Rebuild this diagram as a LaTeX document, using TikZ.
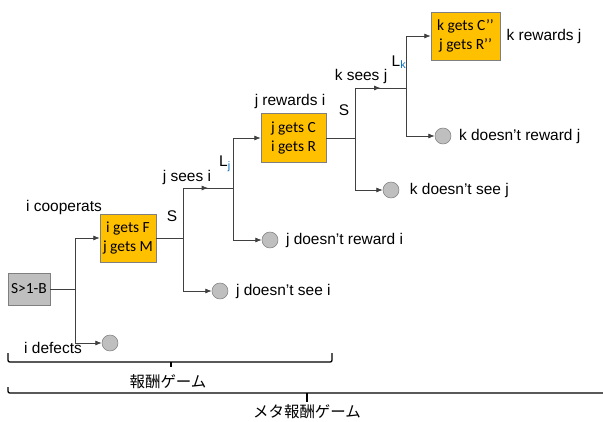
\documentclass[tikz,border=0pt]{standalone}
\usepackage{fontspec}
\setmainfont{Liberation Sans}
\newfontfamily\boxfont{Carlito}
\newfontfamily\cjk{Noto Sans CJK JP}
\usepackage{xcolor}
\usetikzlibrary{arrows.meta,positioning,calc,decorations.markings}

\definecolor{payoff}{HTML}{FFC000}
\definecolor{edgegray}{HTML}{7F7F7F}
\definecolor{leafgray}{HTML}{BFBFBF}
\definecolor{linkgray}{HTML}{404040}
\definecolor{subblue}{HTML}{0070C0}

\begin{document}
\begin{tikzpicture}[x=0.025cm, y=-0.025cm,
  every node/.style={font=\fontsize{11}{13.5}\selectfont},
  payoffbox/.style={rectangle, draw=edgegray, fill=payoff, align=center, inner sep=0pt, font=\fontsize{11}{13.5}\selectfont\boxfont},
  startbox/.style={rectangle, draw=edgegray, fill=leafgray, inner sep=0pt, minimum width=1.05cm, minimum height=0.8cm, font=\fontsize{11}{13.5}\selectfont\boxfont},
  leaf/.style={circle, draw=edgegray, fill=leafgray, minimum size=0.4cm, inner sep=0pt},
  link/.style={draw=linkgray, line width=0.5pt},
  arrowed/.style={-{Latex[length=4.5pt,width=3.5pt]}},
  mid arrow/.style={postaction={decorate}, decoration={markings, mark=at position 0.5 with {\arrow{Latex[length=4.5pt,width=3.5pt]}}}},
  bracket/.style={line width=0.9pt}]
	\useasboundingbox (0,0) rectangle (603,421);

	% game tree
	\node[startbox] (start) at (29,289) {S>1-B};
	\node[payoffbox, minimum width=1.4cm, minimum height=1.2cm] (coop) at (128,238) {i gets F\\j gets M};
	\node[leaf] (defect) at (110,343) {};
	\node[leaf] (nosee1) at (220,291) {};
	\node[payoffbox, minimum width=1.625cm, minimum height=1.225cm] (reward1) at (293.5,138) {j gets C\\i gets R};
	\node[leaf] (norew1) at (270,240) {};
	\node[leaf] (nosee2) at (391,190) {};
	\node[payoffbox, minimum width=1.725cm, minimum height=1.2cm] (reward2) at (465.5,36) {k gets C’’\\j gets R’’};
	\node[leaf] (norew2) at (443,136) {};

	\coordinate (fork0) at (75,289);
	\coordinate (fork1) at (183,238);
	\coordinate (fork2) at (233,188);
	\coordinate (fork3) at (355,138);
	\coordinate (fork4) at (406,88);

	\draw[link] (start) -- (fork0);
	\draw[link, arrowed] (fork0) |- (coop);
	\draw[link, arrowed] (fork0) |- (defect);

	\draw[link] (coop) -- (fork1);
	\draw[link] (fork1) -- (fork1 |- fork2);
	\draw[link, mid arrow] (fork1 |- fork2) -- (fork2);
	\draw[link, arrowed] (fork1) |- (nosee1);
	\draw[link, arrowed] (fork2) |- (reward1);
	\draw[link, arrowed] (fork2) |- (norew1);

	\draw[link] (reward1) -- (fork3);
	\draw[link] (fork3) -- (fork3 |- fork4);
	\draw[link, mid arrow] (fork3 |- fork4) -- (fork4);
	\draw[link, arrowed] (fork3) |- (nosee2);
	\draw[link, arrowed] (fork4) |- (reward2);
	\draw[link, arrowed] (fork4) |- (norew2);

	% labels
	\node (lcoop) at (64,207) {i cooperats};
	\node (ldefect) at (53,348) {i defects};
	\node (ls1) at (172,216) {S};
	\node (lsee1) at (187,177) {j sees i};
	\node (ll1) at (225,164) {L\textsubscript{\textcolor{subblue}{j}}};
	\node (lrew1) at (290,101) {j rewards i};
	\node (ls2) at (344,110) {S};
	\node (lsee2) at (361,76) {k sees j};
	\node (ll2) at (399,62) {L\textsubscript{\textcolor{subblue}{k}}};
	\node[right=2pt of nosee1] (lnosee1) {j doesn't see i};
	\node[right=2pt of norew1] (lnorew1) {j doesn't reward i};
	\node[right=4pt of nosee2] (lnosee2) {k doesn't see j};
	\node[right=2pt of norew2] (lnorew2) {k doesn't reward j};
	\node[right=1pt of reward2] (lrew2) {k rewards j};

	% braces
	\draw[bracket] (8,353) -- (8,358) .. controls (8,362) .. (12,362) -- (328,362) .. controls (332,362) .. (332,358) -- (332,353);
	\draw[bracket] (171,362) -- (171,367);
	\node[font=\fontsize{11}{13.5}\selectfont\cjk] (game) at (168,382) {報酬ゲーム};
	\draw[bracket] (8,387) -- (8,389) .. controls (8,393) .. (12,393) -- (603,393);
	\draw[bracket] (307,393) -- (307,402);
	\node[font=\fontsize{11}{13.5}\selectfont\cjk] (metagame) at (307,412) {メタ報酬ゲーム};
\end{tikzpicture}
\end{document}
